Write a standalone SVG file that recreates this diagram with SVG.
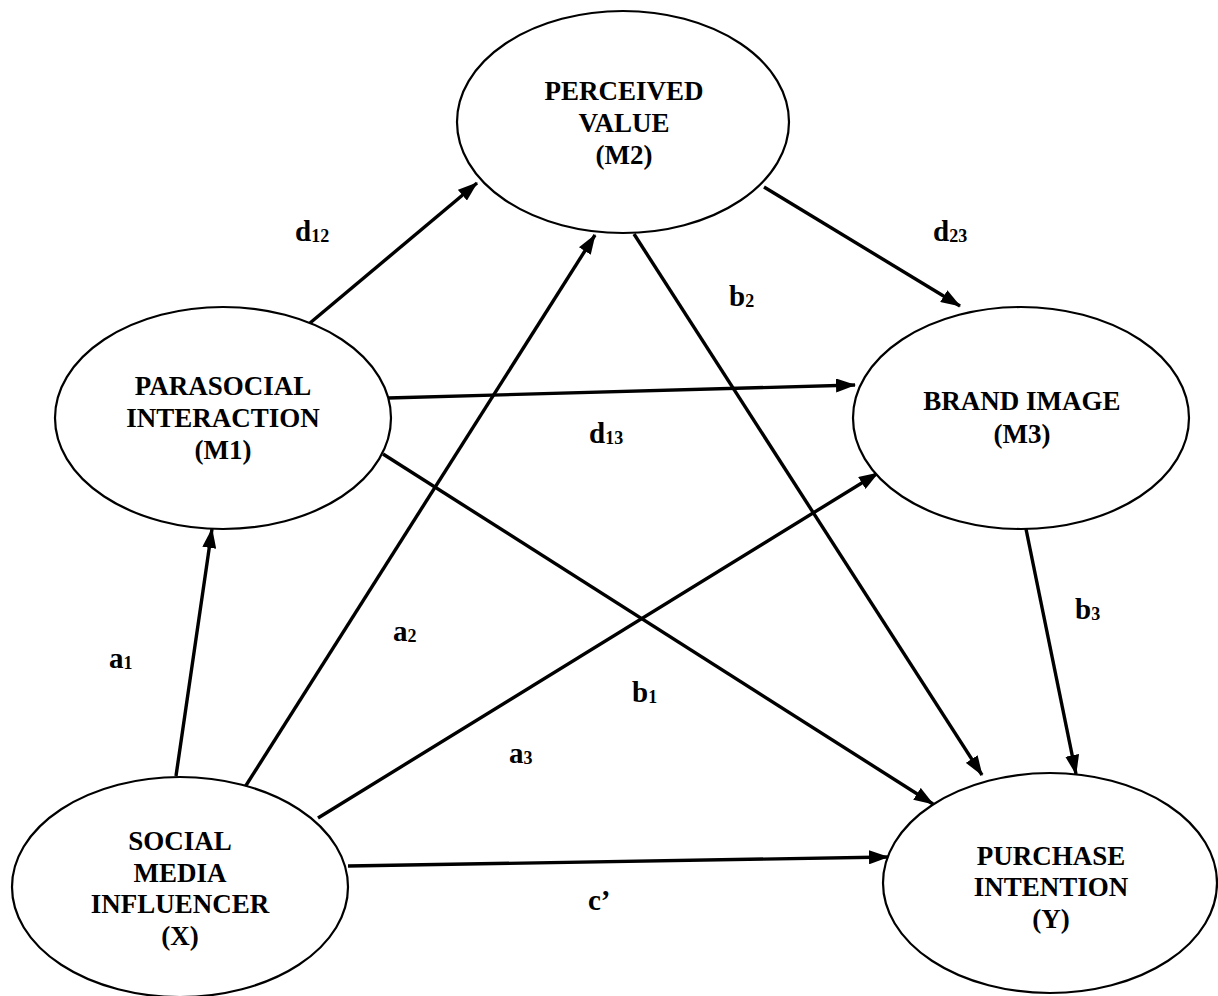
<svg xmlns="http://www.w3.org/2000/svg" width="1218" height="996" viewBox="0 0 1218 996">
<defs>
<style>
.node{fill:#fff;stroke:#000;stroke-width:2.2}
.nt{font-family:"Liberation Serif","Times New Roman",serif;font-weight:bold;font-size:27px;text-anchor:middle;fill:#000}
.lbl{font-family:"Liberation Serif","Times New Roman",serif;font-weight:bold;font-size:29px;fill:#000}
.sub{font-size:18px}
.edge{stroke:#000;stroke-width:3.4;fill:none;marker-end:url(#ah)}
</style>
<marker id="ah" markerUnits="userSpaceOnUse" markerWidth="20" markerHeight="14" refX="19" refY="7" orient="auto">
<path d="M0,0 L20,7 L0,14 z" fill="#000"/>
</marker>
</defs>
<rect width="1218" height="996" fill="#fff"/>
<g id="connectors">
<line class="edge" x1="176" y1="776" x2="212" y2="529"/>
<line class="edge" x1="245" y1="787" x2="595" y2="235"/>
<line class="edge" x1="318" y1="818" x2="878" y2="473"/>
<line class="edge" x1="348" y1="866" x2="888" y2="857"/>
<line class="edge" x1="310" y1="323" x2="477" y2="183"/>
<line class="edge" x1="388" y1="398" x2="855" y2="385"/>
<line class="edge" x1="383" y1="454" x2="933" y2="804"/>
<line class="edge" x1="634" y1="234" x2="982" y2="775"/>
<line class="edge" x1="764" y1="187" x2="960" y2="306"/>
<line class="edge" x1="1026" y1="529" x2="1076" y2="774"/>
</g>
<g id="labels">
<text class="lbl" x="295" y="241">d<tspan class="sub" dy="1">12</tspan></text>
<text class="lbl" x="933" y="241">d<tspan class="sub" dy="1">23</tspan></text>
<text class="lbl" x="589" y="443">d<tspan class="sub" dy="1">13</tspan></text>
<text class="lbl" x="729" y="306">b<tspan class="sub" dy="1">2</tspan></text>
<text class="lbl" x="109" y="668">a<tspan class="sub" dy="1">1</tspan></text>
<text class="lbl" x="393" y="641">a<tspan class="sub" dy="1">2</tspan></text>
<text class="lbl" x="632" y="702">b<tspan class="sub" dy="1">1</tspan></text>
<text class="lbl" x="509" y="763">a<tspan class="sub" dy="1">3</tspan></text>
<text class="lbl" x="1075" y="619">b<tspan class="sub" dy="1">3</tspan></text>
<text class="lbl" x="588" y="910">c’</text>
</g>
<g id="M2">
<ellipse class="node" cx="623" cy="122" rx="166" ry="111"/>
<text class="nt" x="624" y="100">PERCEIVED</text>
<text class="nt" x="624" y="132">VALUE</text>
<text class="nt" x="624" y="164">(M2)</text>
</g>
<g id="M1">
<ellipse class="node" cx="223" cy="418" rx="168" ry="111"/>
<text class="nt" x="223" y="395">PARASOCIAL</text>
<text class="nt" x="223" y="427">INTERACTION</text>
<text class="nt" x="223" y="459">(M1)</text>
</g>
<g id="M3">
<ellipse class="node" cx="1021" cy="418" rx="168" ry="111"/>
<text class="nt" x="1022" y="410">BRAND IMAGE</text>
<text class="nt" x="1022" y="443">(M3)</text>
</g>
<g id="X">
<ellipse class="node" cx="180" cy="887" rx="168" ry="110"/>
<text class="nt" x="180" y="850">SOCIAL</text>
<text class="nt" x="180" y="882">MEDIA</text>
<text class="nt" x="180" y="913">INFLUENCER</text>
<text class="nt" x="180" y="945">(X)</text>
</g>
<g id="Y">
<ellipse class="node" cx="1050" cy="883" rx="167" ry="110"/>
<text class="nt" x="1051" y="865">PURCHASE</text>
<text class="nt" x="1051" y="896">INTENTION</text>
<text class="nt" x="1051" y="928">(Y)</text>
</g>
</svg>
